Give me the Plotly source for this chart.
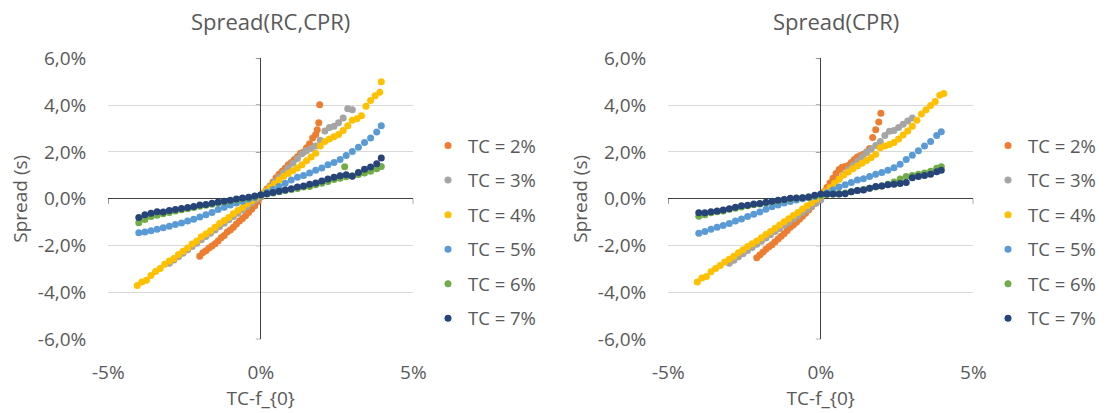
import plotly.graph_objects as go

# ---- series values (x = TC - f0 in %, y = spread in %) ----
SERIES_NAMES = ["TC = 2%", "TC = 3%", "TC = 4%", "TC = 5%", "TC = 6%", "TC = 7%"]
SERIES_COLORS = ["#ED7D31", "#A5A5A5", "#FFC000", "#5B9BD5", "#70AD47", "#264478"]

# Spread(RC,CPR)
rc_x_tc2 = [-2.0, -1.9, -1.8, -1.7, -1.6, -1.5, -1.4, -1.3, -1.2, -1.1, -1.0, -0.9, -0.8, -0.7,
            -0.6, -0.5, -0.4, -0.3, -0.2, -0.1, 0.0, 0.1, 0.2, 0.3, 0.4, 0.5, 0.6, 0.7, 0.8, 0.9,
            1.0, 1.1, 1.2, 1.3, 1.4, 1.5, 1.6, 1.7, 1.8, 1.85, 1.9, 1.93]
rc_y_tc2 = [-2.45, -2.30, -2.22, -2.10, -2.02, -1.92, -1.80, -1.66, -1.57, -1.42, -1.33, -1.22,
            -1.08, -0.95, -0.84, -0.72, -0.58, -0.45, -0.30, -0.12, 0.08, 0.25, 0.42, 0.55, 0.72,
            0.90, 1.05, 1.18, 1.30, 1.45, 1.55, 1.68, 1.80, 1.95, 2.00, 2.18, 2.35, 2.60, 2.75,
            2.95, 3.25, 4.02]

rc_x_tc3 = [-3.0, -2.85, -2.7, -2.55, -2.4, -2.25, -2.1, -1.95, -1.8, -1.65, -1.5, -1.35, -1.2,
            -1.05, -0.9, -0.75, -0.6, -0.45, -0.3, -0.15, 0.0, 0.15, 0.3, 0.45, 0.6, 0.75, 0.9,
            1.05, 1.2, 1.35, 1.5, 1.65, 1.8, 1.95, 2.1, 2.25, 2.4, 2.55, 2.7, 2.85, 3.0]
rc_y_tc3 = [-2.75, -2.61, -2.47, -2.32, -2.18, -2.04, -1.90, -1.75, -1.61, -1.47, -1.33, -1.18,
            -1.04, -0.90, -0.76, -0.62, -0.47, -0.33, -0.18, -0.04, 0.10, 0.32, 0.52, 0.72, 0.92,
            1.12, 1.32, 1.52, 1.72, 1.92, 2.05, 2.15, 2.25, 2.50, 2.90, 3.05, 3.10, 3.25, 3.45,
            3.85, 3.80]

rc_x_tc4 = [-4.05, -3.9, -3.75, -3.6, -3.45, -3.3, -3.15, -3.0, -2.85, -2.7, -2.55, -2.4, -2.25,
            -2.1, -1.95, -1.8, -1.65, -1.5, -1.35, -1.2, -1.05, -0.9, -0.75, -0.6, -0.45, -0.3,
            -0.15, 0.0, 0.15, 0.3, 0.45, 0.6, 0.75, 0.9, 1.05, 1.2, 1.35, 1.5, 1.65, 1.8, 1.95,
            2.1, 2.25, 2.4, 2.55, 2.7, 2.85, 3.0, 3.15, 3.3, 3.45, 3.6, 3.75, 3.9, 3.95]
rc_y_tc4 = [-3.70, -3.55, -3.48, -3.28, -3.10, -2.98, -2.80, -2.66, -2.55, -2.38, -2.24, -2.10,
            -1.93, -1.80, -1.62, -1.50, -1.36, -1.22, -1.06, -0.93, -0.80, -0.64, -0.50, -0.37,
            -0.22, -0.08, 0.04, 0.16, 0.32, 0.48, 0.64, 0.80, 0.96, 1.08, 1.20, 1.32, 1.45, 1.62,
            1.78, 1.95, 2.25, 2.45, 2.55, 2.65, 2.75, 2.92, 3.12, 3.35, 3.42, 3.55, 3.95, 4.20,
            4.40, 4.55, 5.00]

rc_x_wide = [-4.0, -3.8, -3.6, -3.4, -3.2, -3.0, -2.8, -2.6, -2.4, -2.2, -2.0, -1.8, -1.6, -1.4,
             -1.2, -1.0, -0.8, -0.6, -0.4, -0.2, 0.0, 0.2, 0.4, 0.6, 0.8, 1.0, 1.2, 1.4, 1.6, 1.8,
             2.0, 2.2, 2.4, 2.6, 2.8, 3.0, 3.2, 3.4, 3.6, 3.8, 3.95]
rc_y_tc5 = [-1.45, -1.42, -1.36, -1.30, -1.24, -1.17, -1.10, -1.03, -0.95, -0.87, -0.78, -0.68,
            -0.58, -0.46, -0.36, -0.27, -0.18, -0.10, -0.02, 0.06, 0.15, 0.28, 0.40, 0.52, 0.66,
            0.80, 0.92, 1.00, 1.10, 1.22, 1.32, 1.45, 1.55, 1.68, 1.85, 2.02, 2.20, 2.40, 2.60,
            2.85, 3.12]
rc_x_tc6 = rc_x_wide + [2.75]
rc_y_tc6 = [-1.02, -0.88, -0.76, -0.70, -0.64, -0.58, -0.52, -0.47, -0.42, -0.37, -0.32, -0.28,
            -0.23, -0.18, -0.13, -0.08, -0.04, 0.01, 0.05, 0.10, 0.15, 0.20, 0.25, 0.30, 0.35,
            0.40, 0.44, 0.50, 0.52, 0.60, 0.66, 0.74, 0.82, 0.88, 0.94, 0.98, 1.04, 1.10, 1.18,
            1.28, 1.38, 1.37]
rc_y_tc7 = [-0.80, -0.68, -0.62, -0.55, -0.56, -0.50, -0.46, -0.41, -0.37, -0.33, -0.27, -0.24,
            -0.19, -0.14, -0.10, -0.06, -0.01, 0.03, 0.07, 0.12, 0.17, 0.22, 0.27, 0.32, 0.38,
            0.43, 0.50, 0.55, 0.62, 0.68, 0.76, 0.85, 0.92, 0.98, 1.03, 0.96, 1.12, 1.26, 1.36,
            1.50, 1.74]

# Spread(CPR)
cpr_x_tc2 = [-2.1, -2.0, -1.9, -1.8, -1.7, -1.6, -1.5, -1.4, -1.3, -1.2, -1.1, -1.0, -0.9, -0.8,
             -0.7, -0.6, -0.5, -0.4, -0.3, -0.2, -0.1, 0.0, 0.1, 0.2, 0.3, 0.4, 0.5, 0.6, 0.7,
             0.8, 0.9, 1.0, 1.1, 1.2, 1.3, 1.4, 1.5, 1.6, 1.7, 1.8, 1.9, 1.97]
cpr_y_tc2 = [-2.52, -2.40, -2.28, -2.15, -2.05, -1.96, -1.83, -1.72, -1.60, -1.48, -1.35, -1.22,
             -1.12, -1.00, -0.87, -0.75, -0.62, -0.48, -0.34, -0.20, -0.05, 0.12, 0.30, 0.48,
             0.68, 0.88, 1.08, 1.25, 1.35, 1.38, 1.42, 1.55, 1.68, 1.78, 1.85, 1.90, 2.00, 2.15,
             2.62, 2.95, 3.28, 3.65]

cpr_x_tc3 = rc_x_tc3
cpr_y_tc3 = [-2.75, -2.62, -2.48, -2.35, -2.21, -2.08, -1.94, -1.81, -1.67, -1.54, -1.40, -1.27,
             -1.13, -1.00, -0.86, -0.73, -0.59, -0.46, -0.32, -0.18, -0.04, 0.20, 0.42, 0.62,
             0.85, 1.05, 1.25, 1.42, 1.60, 1.80, 1.98, 2.12, 2.28, 2.45, 2.70, 2.88, 2.92, 3.05,
             3.18, 3.32, 3.45]

cpr_x_tc4 = rc_x_tc4[:-1] + [4.03]
cpr_y_tc4 = [-3.55, -3.38, -3.32, -3.12, -2.98, -2.85, -2.70, -2.58, -2.45, -2.30, -2.18, -2.04,
             -1.92, -1.80, -1.66, -1.52, -1.40, -1.26, -1.12, -0.98, -0.85, -0.71, -0.58, -0.44,
             -0.30, -0.17, -0.02, 0.12, 0.30, 0.48, 0.66, 0.84, 1.02, 1.14, 1.28, 1.40, 1.52,
             1.64, 1.76, 1.90, 2.18, 2.25, 2.32, 2.40, 2.55, 2.72, 2.90, 3.10, 3.35, 3.62, 3.80,
             3.98, 4.15, 4.42, 4.50]

cpr_x_wide = rc_x_wide
cpr_y_tc5 = [-1.47, -1.40, -1.30, -1.22, -1.14, -1.05, -0.95, -0.86, -0.76, -0.66, -0.56, -0.45,
             -0.34, -0.26, -0.18, -0.11, -0.05, 0.00, 0.05, 0.10, 0.15, 0.26, 0.38, 0.50, 0.60,
             0.70, 0.80, 0.86, 0.95, 1.05, 1.12, 1.22, 1.33, 1.48, 1.68, 1.86, 2.05, 2.25, 2.45,
             2.70, 2.86]
cpr_y_tc6 = [-0.75, -0.68, -0.60, -0.55, -0.52, -0.45, -0.40, -0.35, -0.30, -0.25, -0.22, -0.17,
             -0.12, -0.08, -0.04, 0.00, 0.02, 0.05, 0.08, 0.12, 0.15, 0.18, 0.20, 0.22, 0.25,
             0.30, 0.35, 0.40, 0.45, 0.50, 0.55, 0.62, 0.72, 0.85, 0.95, 1.00, 1.05, 1.10, 1.18,
             1.30, 1.37]
cpr_y_tc7 = [-0.60, -0.60, -0.55, -0.52, -0.48, -0.42, -0.36, -0.30, -0.28, -0.22, -0.20, -0.15,
             -0.10, -0.06, -0.03, 0.02, 0.03, 0.05, 0.08, 0.15, 0.20, 0.20, 0.20, 0.20, 0.22,
             0.30, 0.35, 0.38, 0.45, 0.52, 0.55, 0.60, 0.62, 0.65, 0.70, 0.90, 0.95, 1.00, 1.05,
             1.15, 1.22]

PANELS = [
    {
        "title": "Spread(RC,CPR)",
        "xs": [rc_x_tc2, rc_x_tc3, rc_x_tc4, rc_x_wide, rc_x_tc6, rc_x_wide],
        "ys": [rc_y_tc2, rc_y_tc3, rc_y_tc4, rc_y_tc5, rc_y_tc6, rc_y_tc7],
    },
    {
        "title": "Spread(CPR)",
        "xs": [cpr_x_tc2, cpr_x_tc3, cpr_x_tc4, cpr_x_wide, cpr_x_wide, cpr_x_wide],
        "ys": [cpr_y_tc2, cpr_y_tc3, cpr_y_tc4, cpr_y_tc5, cpr_y_tc6, cpr_y_tc7],
    },
]

# axis ticks
X_TICKS = [-5, 0, 5]
X_TICK_TEXT = ["-5%", "0%", "5%"]
Y_TICKS = [-6, -4, -2, 0, 2, 4, 6]
Y_TICK_TEXT = ["-6,0%", "-4,0%", "-2,0%", "0,0%", "2,0%", "4,0%", "6,0%"]

X_TITLE = "TC-f_{0}"
Y_TITLE = "Spread (s)"

# ---- styling ----
FONT = "Open Sans"
TEXT_COLOR = "#595959"
AXIS_COLOR = "#404040"
GRID_COLOR = "#D9D9D9"
W, H = 1106, 413

X_DOMAINS = [[108.3 / W, 413.3 / W], [668.3 / W, 973.3 / W]]
Y_DOMAIN = [(H - 339.3) / H, (H - 58.3) / H]
TITLE_X = [270 / W, 836 / W]
LEGEND_X = [428 / W, 988 / W]

fig = go.Figure()

for p, panel in enumerate(PANELS):
    sfx = "" if p == 0 else str(p + 1)
    legend_id = "legend" + sfx
    for name, color, xs, ys in zip(SERIES_NAMES, SERIES_COLORS, panel["xs"], panel["ys"]):
        fig.add_trace(go.Scatter(
            x=xs, y=ys, mode="markers", name=name,
            marker=dict(color=color, size=7),
            xaxis="x" + sfx, yaxis="y" + sfx,
            legend=legend_id, legendgroup=f"{p}-{name}",
        ))

    fig.layout["xaxis" + sfx] = dict(
        domain=X_DOMAINS[p], range=[-5, 5], anchor="y" + sfx, automargin=False,
        tickvals=X_TICKS, ticktext=X_TICK_TEXT, ticks="", ticklabelstandoff=20,
        showgrid=False, showline=False,
        zeroline=True, zerolinecolor=AXIS_COLOR, zerolinewidth=1,
        tickfont=dict(family=FONT, size=19, color=TEXT_COLOR),
        title=dict(text=X_TITLE, font=dict(family=FONT, size=19, color=TEXT_COLOR), standoff=3),
        fixedrange=True,
    )
    fig.layout["yaxis" + sfx] = dict(
        domain=Y_DOMAIN, range=[-6, 6], anchor="x" + sfx, automargin=False,
        tickvals=Y_TICKS, ticktext=Y_TICK_TEXT, ticks="", ticklabelstandoff=21,
        showgrid=True, gridcolor=GRID_COLOR, gridwidth=1, showline=False,
        zeroline=True, zerolinecolor=AXIS_COLOR, zerolinewidth=1,
        tickfont=dict(family=FONT, size=19, color=TEXT_COLOR),
        title=dict(text=Y_TITLE, font=dict(family=FONT, size=19, color=TEXT_COLOR), standoff=5),
        fixedrange=True,
    )

    # small tick marks on the axes crossing at zero
    for yv in Y_TICKS:
        fig.add_shape(type="line", xref="x" + sfx, yref="y" + sfx,
                      xsizemode="pixel", xanchor=0, x0=-5, x1=0, y0=yv, y1=yv,
                      line=dict(color=AXIS_COLOR, width=1), layer="below")
    for xv in X_TICKS:
        fig.add_shape(type="line", xref="x" + sfx, yref="y" + sfx,
                      ysizemode="pixel", yanchor=0, y0=0, y1=-5, x0=xv, x1=xv,
                      line=dict(color=AXIS_COLOR, width=1), layer="below")

    fig.add_annotation(text=panel["title"], xref="paper", yref="paper",
                       x=TITLE_X[p], y=1 - 21 / H, xanchor="center", yanchor="middle",
                       showarrow=False, font=dict(family=FONT, size=22, color=TEXT_COLOR))

    fig.layout[legend_id] = dict(
        x=LEGEND_X[p], y=1 - 127 / H, xanchor="left", yanchor="top",
        bgcolor="rgba(0,0,0,0)", tracegroupgap=7.5, itemclick=False, itemdoubleclick=False,
        font=dict(family=FONT, size=18.5, color=TEXT_COLOR),
    )

fig.update_layout(
    width=W, height=H,
    margin=dict(l=0, r=0, t=0, b=0, autoexpand=False),
    paper_bgcolor="white", plot_bgcolor="white",
    showlegend=True,
)

fig.write_html("out.html", config={"displayModeBar": False})
